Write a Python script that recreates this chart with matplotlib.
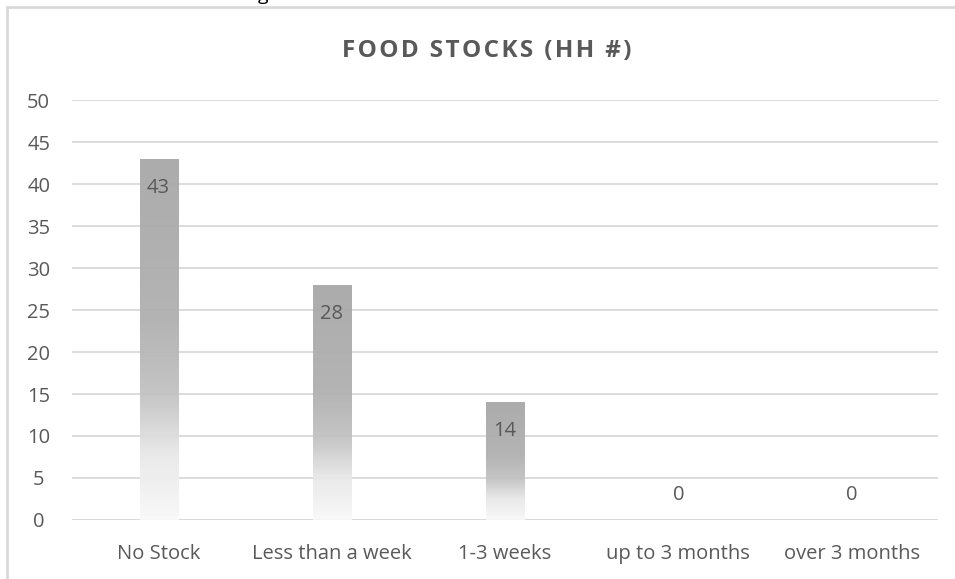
import numpy as np
import matplotlib.pyplot as plt
import matplotlib as mpl
from matplotlib.patches import Rectangle

categories = ['No Stock', 'Less than a week', '1-3 weeks', 'up to 3 months', 'over 3 months']
values = [43, 28, 14, 0, 0]
yticks = np.arange(0, 51, 5)
title = 'FOOD STOCKS (HH #)'

plt.rcParams.update({'font.family': ['Open Sans', 'DejaVu Sans'],
                     'font.size': 14.5})
txtcolor = '#595959'
gridcolor = '#d9d9d9'

fig = plt.figure(figsize=(9.55, 5.79), dpi=100)
ax = fig.add_axes([0.0754, 0.102, 0.907, 0.725])

# chart frame (runs off the right and bottom edge)
fig.patches.append(Rectangle((7/955, -0.05), 1.0, 1 - 7/579 + 0.05,
                             transform=fig.transFigure, fill=False,
                             edgecolor=gridcolor, linewidth=2))
# descender of the text above the chart
fig.text(263/955, 1.0, 'g', ha='center', va='baseline', fontsize=14, color='black')

x = np.arange(len(categories))
bars = ax.bar(x, values, width=0.22, color='none', edgecolor='none', zorder=3)

# gradient fill: gray at top, fading to white at the base
cmap = mpl.colors.LinearSegmentedColormap.from_list(
    'fade', [(0, '#f9f9f9'), (0.18, '#e8e8e8'), (0.35, '#c2c2c2'),
             (0.55, '#b0b0b0'), (1, '#a8a8a8')])
grad = np.linspace(0, 1, 256).reshape(-1, 1)
for b, v in zip(bars, values):
    if v <= 0:
        continue
    x0, w = b.get_x(), b.get_width()
    im = ax.imshow(grad, cmap=cmap, aspect='auto', origin='lower',
                   extent=[x0, x0 + w, 0, v], zorder=3, alpha=0.95)
    im.set_clip_path(b)

for xi, v in zip(x, values):
    off = -29 if v > 0 else 25
    ax.annotate(str(v), (xi, v), xytext=(0, off), textcoords='offset pixels',
                ha='center', va='center', color=txtcolor, fontsize=14.5, zorder=4)

ax.set_xlim(-0.5, len(categories) - 0.5)
ax.set_ylim(0, 50)
ax.set_yticks(yticks)
ax.set_xticks(x)
ax.set_xticklabels(categories)
ax.tick_params(length=0, colors=txtcolor, labelsize=14.5)
ax.tick_params(axis='x', pad=17)
ax.tick_params(axis='y', pad=24)
for lab in ax.get_yticklabels():
    lab.set_horizontalalignment('center')
ax.grid(axis='y', color=gridcolor, linewidth=1.3, zorder=0)
for s in ax.spines.values():
    s.set_visible(False)
ax.axhline(0, color=gridcolor, linewidth=1.3, zorder=1)

# slightly spaced-out title like the office chart style
fig.text(487/955, 1 - 51/579, '\u200a'.join(title), ha='center', va='center',
         fontsize=17.5, fontweight='bold', color=txtcolor)

fig.savefig('out.png', dpi=100)
